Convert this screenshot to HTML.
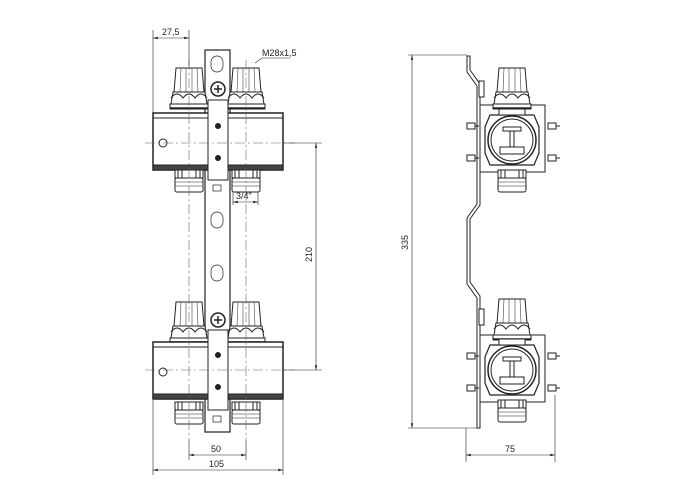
<!DOCTYPE html>
<html><head><style>body{margin:0;background:#fff}svg{display:block}text{font-family:"Liberation Sans",sans-serif;font-size:9px;fill:#222}</style></head><body>
<svg width="700" height="500" viewBox="0 0 700 500" xmlns="http://www.w3.org/2000/svg">
<defs>
<marker id="a" markerWidth="8" markerHeight="6" refX="8" refY="3" orient="auto-start-reverse"><path d="M0,1 L8,3 L0,5z" fill="#222"/></marker>
<g id="knob">
<path d="M-13,-40 L13,-40 L15,-16 L-15,-16Z" fill="#fff" stroke="#222"/>
<path d="M-8,-40 L-9,-16 M-3,-40 L-3,-16 M3,-40 L3,-16 M8,-40 L9,-16" stroke="#444" stroke-width="0.6"/>
<path d="M-16,-16 L16,-16 L18,-4 L-18,-4Z" fill="#fff" stroke="#222"/>
<path d="M-18,-10 q6,-8 12,0 q6,-8 12,0 q6,-8 12,0" fill="none" stroke="#222"/>
<rect x="-19" y="-4" width="38" height="5" fill="#fff" stroke="#222"/>
<line x1="-19" y1="0" x2="19" y2="0" stroke="#222" stroke-width="1.5"/>
</g>
<g id="fit">
<rect x="-14" y="0" width="28" height="8" fill="#fff" stroke="#222"/>
<path d="M-7,0 v8 M7,0 v8 M-11,0 v8 M11,0 v8" stroke="#222"/>
<rect x="-14" y="8" width="28" height="14" rx="2" fill="#fff" stroke="#222"/>
<path d="M-14,12 h28 M-14,16 h28" stroke="#222" stroke-width="0.6"/>
</g>
<g id="bar">
<rect x="153" y="0" width="130" height="57" fill="#fff" stroke="#222" stroke-width="1.5"/>
<line x1="153" y1="5" x2="283" y2="5" stroke="#222"/>
<rect x="153" y="52" width="130" height="5" fill="#444" stroke="#222"/>
<circle cx="163" cy="30" r="4" fill="#fff" stroke="#222"/>
</g>
<g id="side">
<path d="M-22,-16 L22,-16 L27,-4 L27,22 L22,34 L-22,34 L-27,22 L-27,-4Z" fill="#fff" stroke="#222" stroke-width="1.2"/>
<circle cx="0" cy="9" r="24" fill="#fff" stroke="#222" stroke-width="1.5"/>
<circle cx="0" cy="9" r="21" fill="none" stroke="#222"/>
<rect x="-9" y="-4" width="18" height="4" fill="#fff" stroke="#222"/>
<rect x="-2" y="0" width="4" height="16" fill="#fff" stroke="#222"/>
<rect x="-12" y="16" width="24" height="7" fill="#fff" stroke="#222"/>
<rect x="-13" y="-22" width="26" height="6" fill="#fff" stroke="#222"/>
</g>
<g id="bolt"><rect x="-4" y="-3" width="8" height="6" fill="#fff" stroke="#222"/><line x1="4" y1="0" x2="8" y2="0" stroke="#222"/></g>
</defs>
<g stroke="#222" fill="none" stroke-width="0.7">
<rect x="205" y="50" width="25" height="382" fill="#fff" stroke-width="1.2"/>
<rect x="211" y="56" width="12" height="16" rx="6" fill="#fff"/>
<rect x="211" y="212" width="12" height="16" rx="6" fill="#fff"/>
<rect x="211" y="265" width="12" height="16" rx="6" fill="#fff"/>
<rect x="213" y="185" width="8" height="6" fill="#fff"/>
<rect x="213" y="416" width="8" height="6" fill="#fff"/>
</g>
<use href="#knob" x="189" y="108"/>
<use href="#knob" x="246" y="108"/>
<use href="#bar" y="113"/>
<use href="#fit" x="189" y="170"/>
<use href="#fit" x="246" y="170"/>
<rect x="208" y="100" width="20" height="80" fill="#fff" stroke="#222"/>
<circle cx="218" cy="89" r="7" fill="#fff" stroke="#222" stroke-width="1.5"/><path d="M214,89h8M218,85v8" stroke="#222" stroke-width="1.5"/>
<circle cx="218" cy="126" r="3" fill="#222"/><circle cx="218" cy="158" r="3" fill="#222"/>
<use href="#knob" x="189" y="342"/>
<use href="#knob" x="246" y="342"/>
<use href="#bar" y="342"/>
<use href="#fit" x="189" y="402"/>
<use href="#fit" x="246" y="402"/>
<rect x="208" y="330" width="20" height="80" fill="#fff" stroke="#222"/>
<circle cx="218" cy="320" r="7" fill="#fff" stroke="#222" stroke-width="1.5"/><path d="M214,320h8M218,316v8" stroke="#222" stroke-width="1.5"/>
<circle cx="218" cy="355" r="3" fill="#222"/><circle cx="218" cy="387" r="3" fill="#222"/>
<g stroke="#666" stroke-width="0.6" stroke-dasharray="10,3,2,3" fill="none">
<path d="M145,143H295M145,370H295M189,60V440M246,60V440"/>
</g>
<g stroke="#222" stroke-width="0.6" fill="none">
<path d="M153,30V113M189,30V66"/>
<path d="M153,38H189" marker-start="url(#a)" marker-end="url(#a)"/>
<path d="M255,63L262,58H290"/>
<path d="M233,192V205M258,192V205"/>
<path d="M233,202H258" marker-start="url(#a)" marker-end="url(#a)"/>
<path d="M283,143H322M283,370H322"/>
<path d="M316,143V370" marker-start="url(#a)" marker-end="url(#a)"/>
<path d="M189,440V460M246,440V460M153,400V475M283,400V475"/>
<path d="M189,455H246" marker-start="url(#a)" marker-end="url(#a)"/>
<path d="M153,470H283" marker-start="url(#a)" marker-end="url(#a)"/>
</g>
<text x="162" y="35">27,5</text>
<text x="262" y="56">M28x1,5</text>
<text x="236" y="199">3/4"</text>
<text x="312" y="262" transform="rotate(-90 312 262)">210</text>
<text x="211" y="452">50</text>
<text x="209" y="467">105</text>
<g fill="none" stroke="#222" stroke-width="1">
<path d="M480,105 H545 V172 H480"/>
<path d="M480,335 H545 V402 H480"/>
</g>
<use href="#knob" x="512" y="108"/>
<use href="#side" x="512" y="131"/>
<use href="#fit" x="512" y="170"/>
<use href="#knob" x="512" y="339"/>
<use href="#side" x="512" y="361"/>
<use href="#fit" x="512" y="400"/>
<path d="M467,56 L470,56 L470,70 L480,84 L480,205 L470,219 L470,282 L480,296 L480,428 L477,428 L477,298 L467,284 L467,218 L477,204 L477,86 L467,72Z" fill="#fff" stroke="#222"/>
<rect x="479" y="81" width="5" height="16" fill="#fff" stroke="#222"/>
<rect x="479" y="309" width="5" height="16" fill="#fff" stroke="#222"/>
<use href="#bolt" x="471" y="126"/><use href="#bolt" x="471" y="158"/>
<use href="#bolt" x="552" y="126"/><use href="#bolt" x="552" y="158"/>
<use href="#bolt" x="471" y="356"/><use href="#bolt" x="471" y="388"/>
<use href="#bolt" x="552" y="356"/><use href="#bolt" x="552" y="388"/>
<g stroke="#222" stroke-width="0.6" fill="none">
<path d="M408,55H467M408,428H478"/>
<path d="M412,55V428" marker-start="url(#a)" marker-end="url(#a)"/>
<path d="M466,428V462M555,395V462"/>
<path d="M466,455H555" marker-start="url(#a)" marker-end="url(#a)"/>
</g>
<text x="408" y="250" transform="rotate(-90 408 250)">335</text>
<text x="505" y="452">75</text>
</svg>
</body></html>
